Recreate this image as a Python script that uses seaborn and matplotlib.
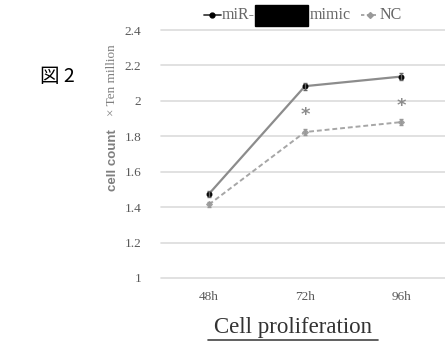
import matplotlib
matplotlib.use("Agg")
import matplotlib.pyplot as plt
import seaborn as sns
import pandas as pd
from matplotlib.lines import Line2D
from matplotlib.patches import Rectangle

timepoints = ["48h", "72h", "96h"]
mimic_vals = [1.475, 2.083, 2.137]
mimic_err = [0.015, 0.02, 0.02]
nc_vals = [1.415, 1.824, 1.880]
nc_err = [0.015, 0.015, 0.015]
star_vals = [None, 1.92, 1.97]
yticks = [1, 1.2, 1.4, 1.6, 1.8, 2, 2.2, 2.4]
ytick_labels = ["1", "1.2", "1.4", "1.6", "1.8", "2", "2.2", "2.4"]

df = pd.DataFrame({
    "time": timepoints * 2,
    "value": mimic_vals + nc_vals,
    "group": ["mimic"] * 3 + ["NC"] * 3,
})

sns.set_theme(style="white")
plt.rcParams['font.family'] = ['Liberation Serif', 'DejaVu Sans']

W, H = 445, 345
fig = plt.figure(figsize=(W / 100, H / 100), dpi=100)
left, right, top, bottom = 161, 445, 30, 278
ax = fig.add_axes([left / W, 1 - bottom / H, (right - left) / W, (bottom - top) / H])

sns.lineplot(data=df[df.group == "mimic"], x="time", y="value", ax=ax,
             color="#8c8c8c", linewidth=1.6, marker="o", markersize=3.5,
             markerfacecolor="black", markeredgecolor="black", sort=False)
sns.lineplot(data=df[df.group == "NC"], x="time", y="value", ax=ax,
             color="#a6a6a6", linewidth=1.4, linestyle=(0, (2.5, 1.5)), marker="D",
             markersize=3, markerfacecolor="#a0a0a0", markeredgecolor="#a0a0a0", sort=False)

xpos = list(range(len(timepoints)))
ax.errorbar(xpos, mimic_vals, yerr=mimic_err, fmt="none", ecolor="#666666",
            elinewidth=1, capsize=1.5, zorder=4)
ax.errorbar(xpos, nc_vals, yerr=nc_err, fmt="none", ecolor="#999999",
            elinewidth=1, capsize=1.5, zorder=4)
for x, s in zip(xpos, star_vals):
    if s is not None:
        ax.text(x, s, "*", ha="center", va="center", fontsize=13,
                color="#8c8c8c", fontweight="bold", family="DejaVu Sans")

ax.set_ylim(1, 2.4)
ax.set_xlim(-0.5, 2.5 - 4 / 96)
ax.set_yticks(yticks)
ax.set_yticklabels(ytick_labels)
ax.yaxis.grid(True, color="#dcdcdc", linewidth=1.2)
for gl in ax.yaxis.get_gridlines():
    gl.set_clip_on(False)
ax.xaxis.grid(False)
for sp in ax.spines.values():
    sp.set_visible(False)
ax.tick_params(axis="both", length=0, labelsize=9.5, labelcolor="#595959")
ax.tick_params(axis="y", pad=14)
ax.tick_params(axis="x", pad=9)
ax.set_xlabel("")
ax.set_ylabel("")
if ax.get_legend():
    ax.get_legend().remove()

# y label texts
fig.text(113 / W, 1 - 160 / H, "cell count", rotation=90, ha="center", va="center",
         fontsize=9.5, color="#7f7f7f", family="Liberation Sans", fontweight="bold")
fig.text(112 / W, 1 - 80 / H, "× Ten million", rotation=90, ha="center", va="center",
         fontsize=9.5, color="#7f7f7f")

# legend
ly = 1 - 15 / H
fig.add_artist(Line2D([204 / W, 221 / W], [ly, ly], color="#404040", linewidth=1.3))
fig.add_artist(Line2D([212 / W], [ly], marker="o", markersize=3.5, color="black"))
fig.text(222 / W, ly, "miR-", ha="left", va="center", fontsize=11.5, color="#666666")
fig.add_artist(Rectangle((255 / W, 1 - 26 / H), 53 / W, 21 / H, color="black",
                         transform=fig.transFigure))
fig.text(310 / W, ly, "mimic", ha="left", va="center", fontsize=11.5, color="#666666")
fig.add_artist(Line2D([361 / W, 378 / W], [ly, ly], color="#999999", linewidth=1.2,
                      linestyle=(0, (2, 1.5))))
fig.add_artist(Line2D([369.5 / W], [ly], marker="D", markersize=3, color="#999999"))
fig.text(380 / W, ly, "NC", ha="left", va="center", fontsize=11.5, color="#666666")

# figure label
fig.text(40 / W, 1 - 76 / H, "図 2", ha="left", va="center", fontsize=14,
         color="black", family=["Noto Sans CJK JP", "DejaVu Sans"])

# bottom title with underline
fig.text(293 / W, 1 - 327 / H, "Cell proliferation", ha="center", va="center",
         fontsize=16.5, color="#333333")
fig.add_artist(Line2D([208 / W, 378 / W], [1 - 340 / H, 1 - 340 / H],
                      color="#444444", linewidth=1.2))

fig.savefig("out.png", dpi=100)
